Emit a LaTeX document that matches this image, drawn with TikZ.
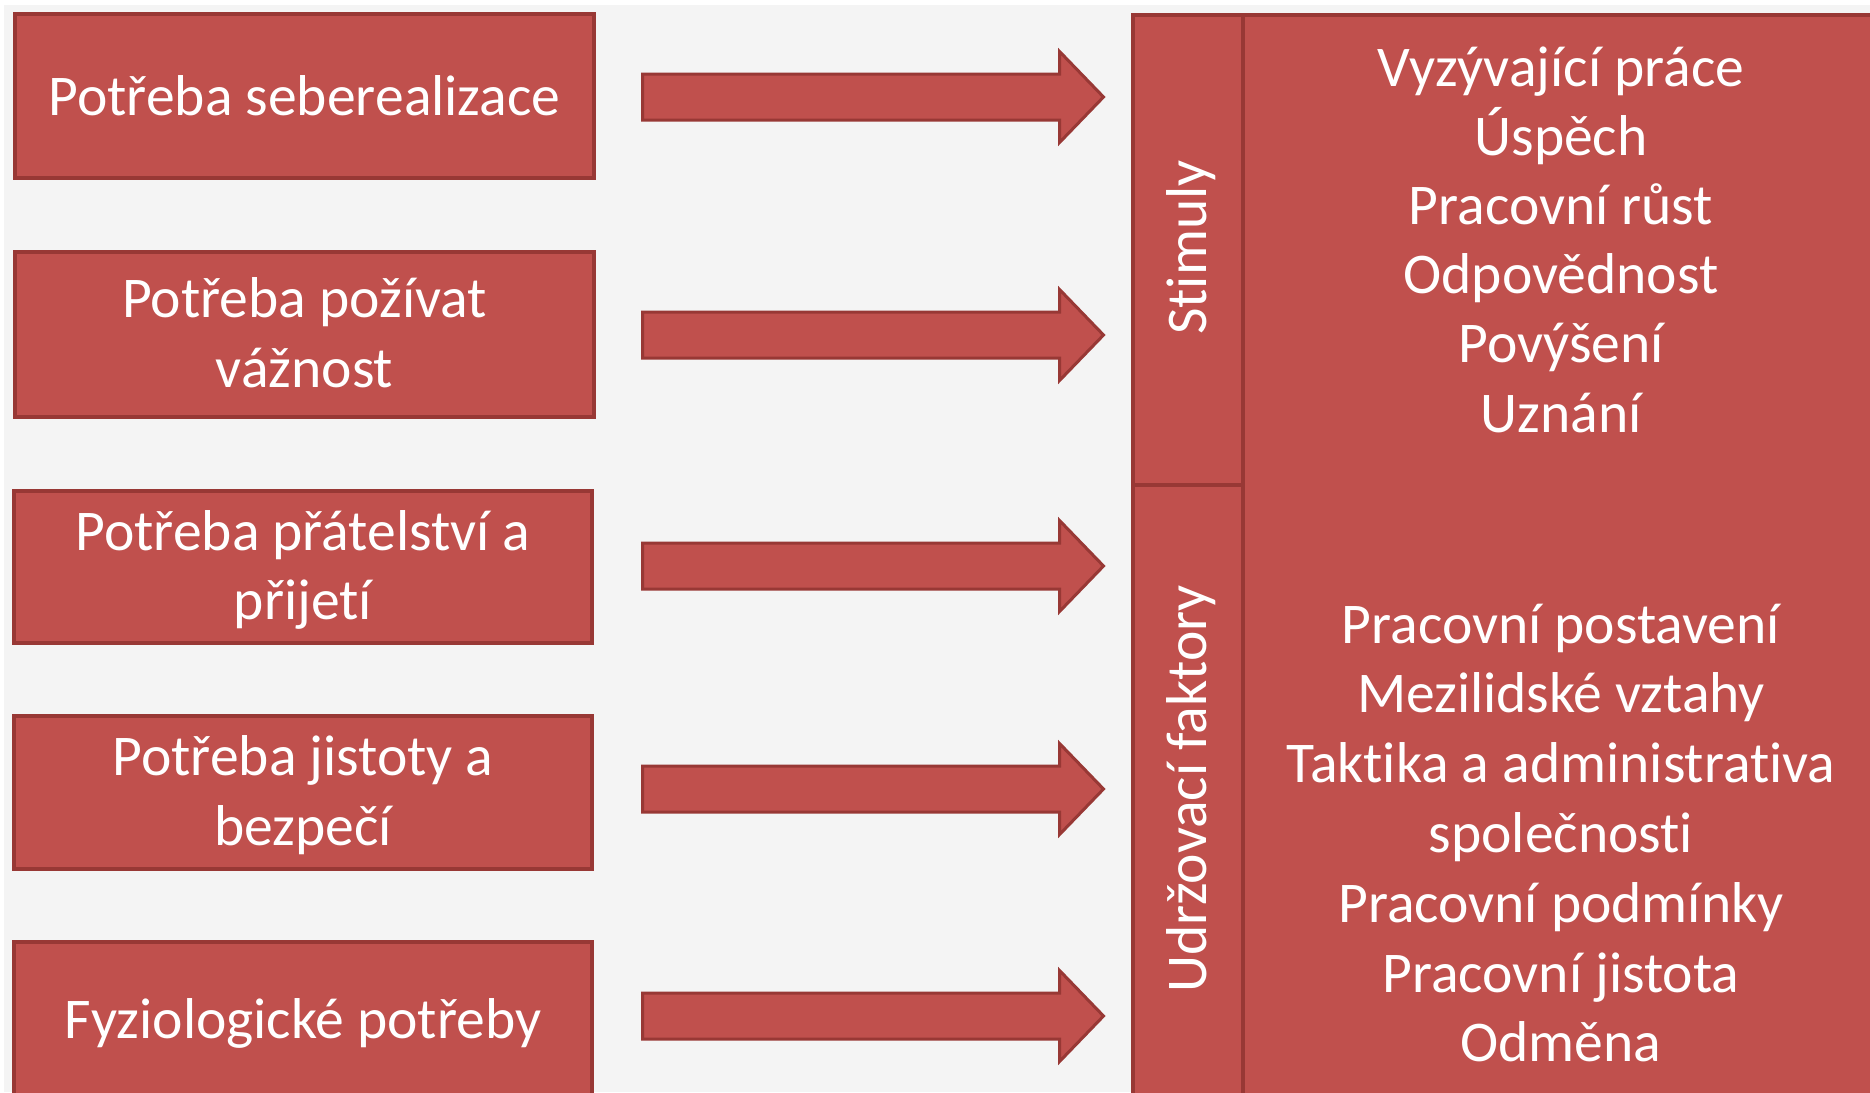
\documentclass[tikz,border=0pt]{standalone}
\usepackage{fontspec}
\setmainfont{Carlito}[Ligatures={NoCommon,NoContextual}, Contextuals=NoAlternate]
\usetikzlibrary{shapes.arrows}

\definecolor{slidebg}{HTML}{F4F4F4}
\definecolor{boxfill}{HTML}{C0504D}
\definecolor{boxline}{HTML}{983835}

\tikzset{
  redbox/.style={draw=boxline, fill=boxfill, line width=4pt, inner sep=0pt,
                 outer sep=0pt, rectangle},
  lbl/.style={text=white, font=\fontsize{57.6}{69}\selectfont, inner sep=0pt,
              anchor=base},
  sidelbl/.style={lbl, rotate=90},
  blockarrow/.style={single arrow, draw=boxline, fill=boxfill, line width=3pt,
                     inner xsep=0pt, inner ysep=21.5pt,
                     minimum height=461pt, minimum width=90pt,
                     single arrow head extend=22.5pt,
                     single arrow tip angle=92, anchor=tail}
}

\begin{document}
\begin{tikzpicture}[x=1pt, y=-1pt]
  \useasboundingbox (0,0) rectangle (1870,1092);
  \clip (0,0) rectangle (1870,1092);
  \fill[white] (0,0) rectangle (1870,1092);
  \fill[slidebg] (4,5) rectangle (1870,1092);

  % needs, left column
  \node[redbox, minimum width=579pt, minimum height=164pt] (n1) at (304.5,96) {};
  \node[redbox, minimum width=579pt, minimum height=165pt] (n2) at (304.5,334.5) {};
  \node[redbox, minimum width=578pt, minimum height=152pt] (n3) at (303,567) {};
  \node[redbox, minimum width=578pt, minimum height=153pt] (n4) at (303,792.5) {};
  \node[redbox, minimum width=578pt, minimum height=156pt] (n5) at (303,1020) {};

  \node[lbl] (n1a) at (304.5,115) {Potřeba seberealizace};
  \node[lbl] (n2a) at (304.5,317) {Potřeba požívat};
  \node[lbl] (n2b) at (304.5,387) {vážnost};
  \node[lbl] (n3a) at (303,550) {Potřeba přátelství a};
  \node[lbl] (n3b) at (303,619) {přijetí};
  \node[lbl] (n4a) at (303,775) {Potřeba jistoty a};
  \node[lbl] (n4b) at (303,845) {bezpečí};
  \node[lbl] (n5a) at (303,1038) {Fyziologické potřeby};

  % block arrows
  \node[blockarrow] (a1) at (641,97) {};
  \node[blockarrow] (a2) at (641,335) {};
  \node[blockarrow] (a3) at (641,566) {};
  \node[blockarrow] (a4) at (641,789) {};
  \node[blockarrow] (a5) at (641,1016) {};

  % factor panel, right
  \node[redbox, minimum width=647pt, minimum height=1090pt] (list) at (1566.5,560) {};
  \node[redbox, minimum width=110pt, minimum height=470pt] (stim) at (1188,250) {};
  \node[redbox, minimum width=110pt, minimum height=620pt] (hyg) at (1188,795) {};

  \node[sidelbl] (stimt) at (1206,247.5) {Stimuly};
  \node[sidelbl] (hygt) at (1206,789) {Udržovací faktory};

  \foreach \t [count=\i] in {Vyzývající práce, Úspěch, Pracovní růst,
      Odpovědnost, Povýšení, Uznání}
    \node[lbl] (m\i) at (1561,{86+69.2*(\i-1)}) {\t};

  \foreach \t [count=\i] in {Pracovní postavení, Mezilidské vztahy,
      Taktika a administrativa, společnosti, Pracovní podmínky,
      Pracovní jistota, Odměna}
    \node[lbl] (h\i) at (1561,{643+69.8*(\i-1)}) {\t};
\end{tikzpicture}
\end{document}
